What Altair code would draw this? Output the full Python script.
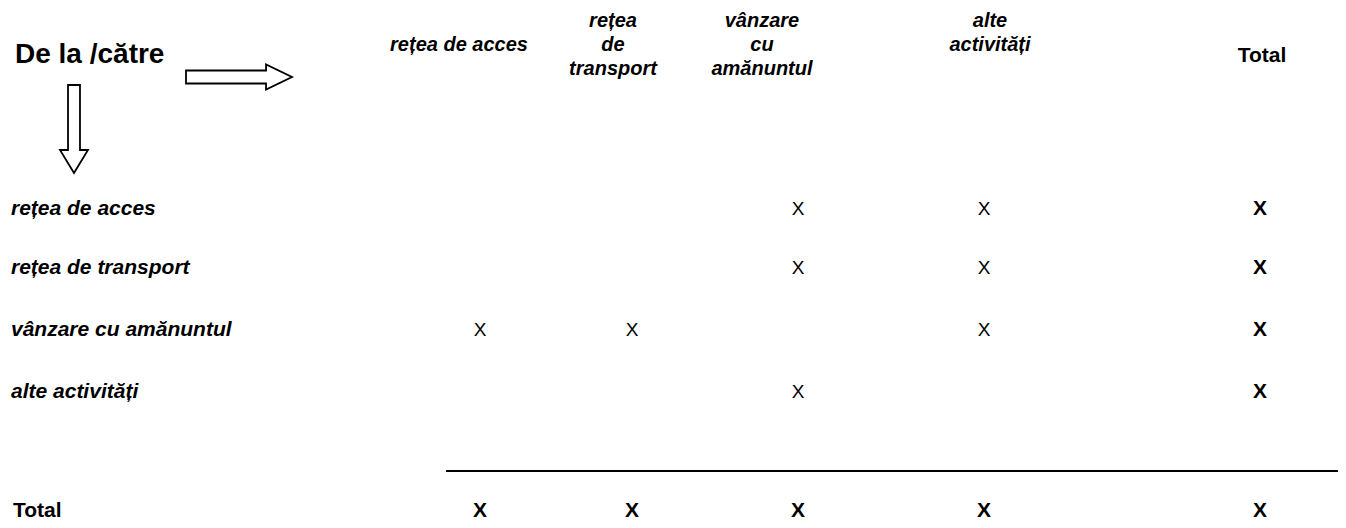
import altair as alt
import pandas as pd

# ---- data ----
rows = ["rețea de acces", "rețea de transport", "vânzare cu amănuntul", "alte activități", "Total"]
cols = ["rețea de acces", "rețea de transport", "vânzare cu amănuntul", "alte activități", "Total"]
col_headers = ["\nrețea de acces", "rețea\nde\ntransport", "vânzare\ncu\namănuntul", "alte\nactivități", "Total"]
# 1 = cell marked with "X"
cells = [
    [0, 0, 1, 1, 1],
    [0, 0, 1, 1, 1],
    [1, 1, 0, 1, 1],
    [0, 0, 1, 0, 1],
    [1, 1, 1, 1, 1],
]
cell_mark = "X"
title_text = "De la /către"

FONT = "Liberation Sans"

# ---- tables built from the lists ----
cell_recs = []
for i, r in enumerate(rows):
    for j, c in enumerate(cols):
        if cells[i][j]:
            cell_recs.append({"ri": i, "ci": j, "mark": cell_mark,
                              "bold": (r == "Total") or (c == "Total")})
cell_df = pd.DataFrame(cell_recs)
row_df = pd.DataFrame({"ri": list(range(len(rows))), "label": rows,
                       "total": [r == "Total" for r in rows]})
head_df = pd.DataFrame({"ci": list(range(len(cols))), "label": col_headers,
                        "total": [c == "Total" for c in cols]})
one = pd.DataFrame({"k": [0]})

# scales (layout only)
idx = list(range(5))
x_cells = alt.Scale(domain=idx, range=[472, 624, 790, 976, 1252])
x_heads = alt.Scale(domain=idx, range=[451, 605, 754, 982, 1254])
y_rows = alt.Scale(domain=idx, range=[201, 260, 322, 384, 503])

X_cell = alt.X("ci:Q", scale=x_cells, axis=None)
Y_row = alt.Y("ri:Q", scale=y_rows, axis=None)

normal_x = alt.Chart(cell_df).transform_filter("!datum.bold").mark_text(
    font=FONT, fontSize=19, color="black", baseline="middle", align="center"
).encode(x=X_cell, y=Y_row, text="mark:N")

bold_x = alt.Chart(cell_df).transform_filter("datum.bold").mark_text(
    font=FONT, fontSize=21, fontWeight="bold", color="black", baseline="middle", align="center"
).encode(x=X_cell, y=Y_row, text="mark:N")

row_labels = alt.Chart(row_df).transform_filter("!datum.total").mark_text(
    font=FONT, fontSize=21, fontWeight="bold", fontStyle="italic", color="black",
    align="left", baseline="middle"
).encode(x=alt.value(3), y=Y_row, text="label:N")

row_total = alt.Chart(row_df).transform_filter("datum.total").mark_text(
    font=FONT, fontSize=21, fontWeight="bold", color="black",
    align="left", baseline="middle"
).encode(x=alt.value(5), y=Y_row, text="label:N")

heads = alt.Chart(head_df).transform_filter("!datum.total").mark_text(
    font=FONT, fontSize=20, fontWeight="bold", fontStyle="italic", color="black",
    align="center", baseline="alphabetic", lineBreak="\n", lineHeight=24
).encode(x=alt.X("ci:Q", scale=x_heads, axis=None), y=alt.value(19), text="label:N")

head_total = alt.Chart(head_df).transform_filter("datum.total").mark_text(
    font=FONT, fontSize=21, fontWeight="bold", color="black",
    align="center", baseline="alphabetic"
).encode(x=alt.X("ci:Q", scale=x_heads, axis=None), y=alt.value(54), text="label:N")

title = alt.Chart(one).mark_text(
    font=FONT, fontSize=28, fontWeight="bold", color="black",
    align="left", baseline="alphabetic"
).encode(x=alt.value(7), y=alt.value(55), text=alt.value(title_text))

right_arrow_path = "M-1,-0.123 L0.51,-0.123 L0.51,-0.236 L1,0 L0.51,0.236 L0.51,0.123 L-1,0.123 Z"
down_arrow_path = "M-0.136,-1 L0.136,-1 L0.136,0.477 L0.318,0.477 L0,1 L-0.318,0.477 L-0.136,0.477 Z"

arrow_right = alt.Chart(one).mark_point(
    shape=right_arrow_path, filled=False, stroke="black", strokeWidth=1.8,
    opacity=1, size=106 * 106
).encode(x=alt.value(231), y=alt.value(69))

arrow_down = alt.Chart(one).mark_point(
    shape=down_arrow_path, filled=False, stroke="black", strokeWidth=1.8,
    opacity=1, size=88 * 88
).encode(x=alt.value(66), y=alt.value(121))

rule = alt.Chart(one).mark_rule(color="black", strokeWidth=2).encode(
    x=alt.value(438), x2=alt.value(1330), y=alt.value(463)
)

chart = alt.layer(
    title, arrow_right, arrow_down, heads, head_total, row_labels, row_total,
    normal_x, bold_x, rule
).resolve_scale(x="independent", y="independent").properties(
    width=1330, height=512, padding=0,
    autosize=alt.AutoSizeParams(type="none"),
    background="white"
).configure_view(stroke=None)

chart.save("out.html", embed_options={"renderer": "svg", "actions": False})
